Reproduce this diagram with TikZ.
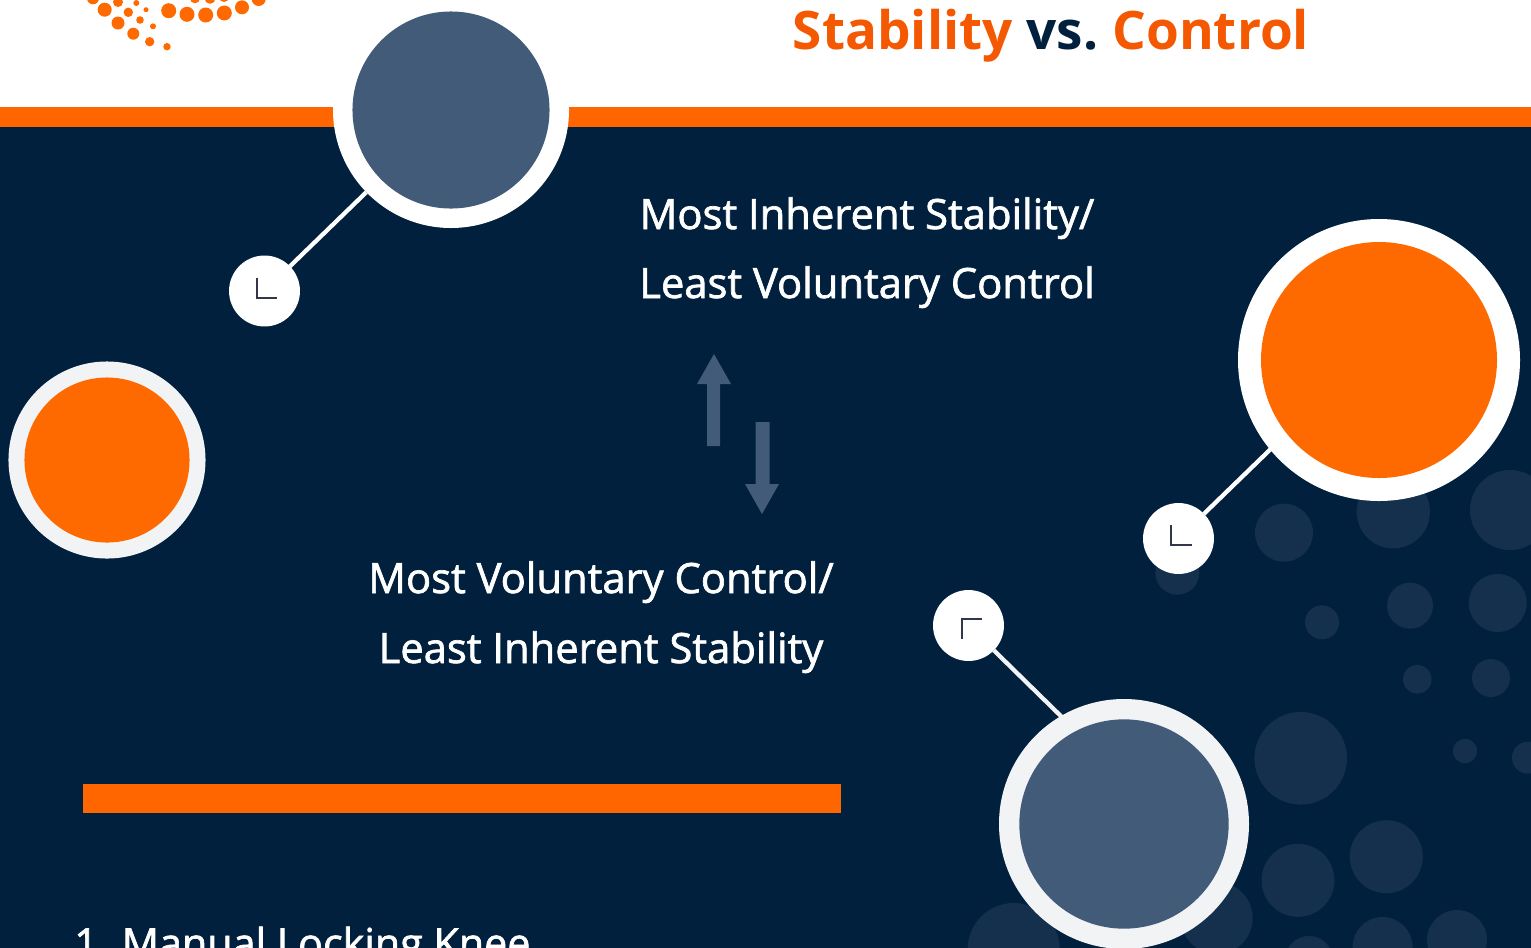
\documentclass[tikz,border=0pt]{standalone}
\usepackage{fontspec}
\setmainfont{Open Sans}
\newfontfamily\bodyfont[FakeBold=1.6]{Open Sans}
\definecolor{navy}{HTML}{00203D}
\definecolor{orng}{HTML}{FF6600}
\definecolor{orngc}{HTML}{FF6A00}
\definecolor{orngt}{HTML}{F45800}
\definecolor{slate}{HTML}{425B78}
\definecolor{bub}{HTML}{14304D}
\definecolor{ringg}{HTML}{F2F3F5}
\definecolor{iconc}{HTML}{33374A}
\tikzset{
  x=0.75pt,y=-0.75pt,
  bubble/.style={fill=bub,draw=none},
  dot/.style={fill=orngc,draw=none},
  disc/.style={circle,inner sep=0pt,outer sep=0pt,draw=none},
  link/.style={line width=3.2pt},
  icon/.style={draw=iconc,line width=1.4pt},
  bodytext/.style={text=white,anchor=base,font=\bodyfont\fontsize{31.3}{36}\selectfont,inner sep=0pt},
  listtext/.style={text=white,anchor=base west,font=\bodyfont\fontsize{30.95}{36}\selectfont,inner sep=0pt},
  titletext/.style={anchor=base,font=\fontsize{39.8}{46}\selectfont\bfseries,inner sep=0pt},
  arrowshape/.style={fill=slate,draw=none}
}
\begin{document}
\begin{tikzpicture}
\useasboundingbox (0,0) rectangle (1531,947);
% grounds
\fill[white] (-10,-10) rectangle (1541,107);
\fill[navy] (-10,127) rectangle (1541,960);
\fill[orng] (-10,107) rectangle (1541,127);
% bubbles
\foreach \x/\y/\r in {1284/532.7/29,1393.3/511.7/36.7,1510/510/40,1177.3/572.7/22,1322/622.3/17,1410/605.7/23,1497.7/603/29,1417.3/679.3/14.3,1491/678/19,1300.7/758.3/46.3,1465/751/12.2,1528/757.7/16,1298/880.3/36.5,1386.3/856.7/36.5,1382.6/947/30,1457/940/30,1309/960/24,1216.7/918/36,1013.7/949/46}
  \fill[bubble] (\x,\y) circle[radius=\r];
% logo
\foreach \x/\y/\r in {104.7/9.7/7,118/2/5,136.3/3/3,146/9.7/2.5,128.3/12.3/4.7,118/23/6.5,140/20/3.8,153/26.3/3,133.3/33.7/6,149.7/41.7/4.7,167/46.7/3.7,168.7/10.7/7.5,187/14.3/7.5,205.7/15/7.5,224.3/13/7.5,242/7.3/7,258.7/-1/7,93/-1.7/6,195/-1.7/5,210/-1.7/5.5,224/-3/5,180/-3/3}
  \fill[dot] (\x,\y) circle[radius=\r];
% title
\node[titletext,text=orngt] (t1) at (902.8,49) {Stability};
\node[titletext,text=navy] (t2) at (1062.3,49) {vs.};
\node[titletext,text=orngt] (t3) at (1210.8,49) {Control};
% text
\node[bodytext] (a1) at (867,229) {Most Inherent Stability/};
\node[bodytext] (a2) at (867,298) {Least Voluntary Control};
\node[bodytext] (b1) at (601,593) {Most Voluntary Control/};
\node[bodytext] (b2) at (601,663) {Least Inherent Stability};
\node[listtext] (c1) at (74,958) {1.};
\node[listtext] (c2) at (121.5,958) {Manual Locking Knee};
% arrows
\fill[arrowshape] (714,354) -- (731,384) -- (720,384) -- (720,446) -- (707,446) -- (707,384) -- (697,384) -- cycle;
\fill[arrowshape] (762,514) -- (779,484) -- (769.5,484) -- (769.5,422) -- (755.5,422) -- (755.5,484) -- (745,484) -- cycle;
% bar
\fill[orng] (83,784) rectangle (841,813);
% discs
\node[disc,fill=white,minimum size=88.5pt*2] (topo) at (451,110) {};
\node[disc,fill=slate,minimum size=73.9pt*2] (topi) at (451,110) {};
\node[disc,fill=white,minimum size=26.6pt*2] (s1) at (264.5,291) {};
\node[disc,fill=white,minimum size=26.6pt*2] (s2) at (1178.5,538.5) {};
\node[disc,fill=white,minimum size=26.6pt*2] (s3) at (968.5,625.5) {};
% connectors
\draw[link,white] (s1) -- (topo);
\coordinate (e2) at (1280,440);
\draw[link,white] (s2) -- (e2);
\coordinate (e3) at (1070,725);
\draw[link,ringg] (s3) -- (e3);
\node[disc,fill=white,minimum size=105.75pt*2] (righto) at (1379,360) {};
\node[disc,fill=orngc,minimum size=88.5pt*2] (righti) at (1379,360) {};
\node[disc,fill=ringg,minimum size=73.9pt*2] (lefto) at (107,460) {};
\node[disc,fill=orngc,minimum size=61.9pt*2] (lefti) at (107,460) {};
\node[disc,fill=ringg,minimum size=93.75pt*2] (boto) at (1124,824) {};
\node[disc,fill=slate,minimum size=78.5pt*2] (boti) at (1124,824) {};
% icons
\draw[icon] (256.7,277.7) -- (256.7,297.7) -- (277.3,297.7);
\draw[icon] (1171,525) -- (1171,545) -- (1192,545);
\draw[icon] (962.3,638.7) -- (962.3,618.7) -- (982,618.7);
\end{tikzpicture}
\end{document}
